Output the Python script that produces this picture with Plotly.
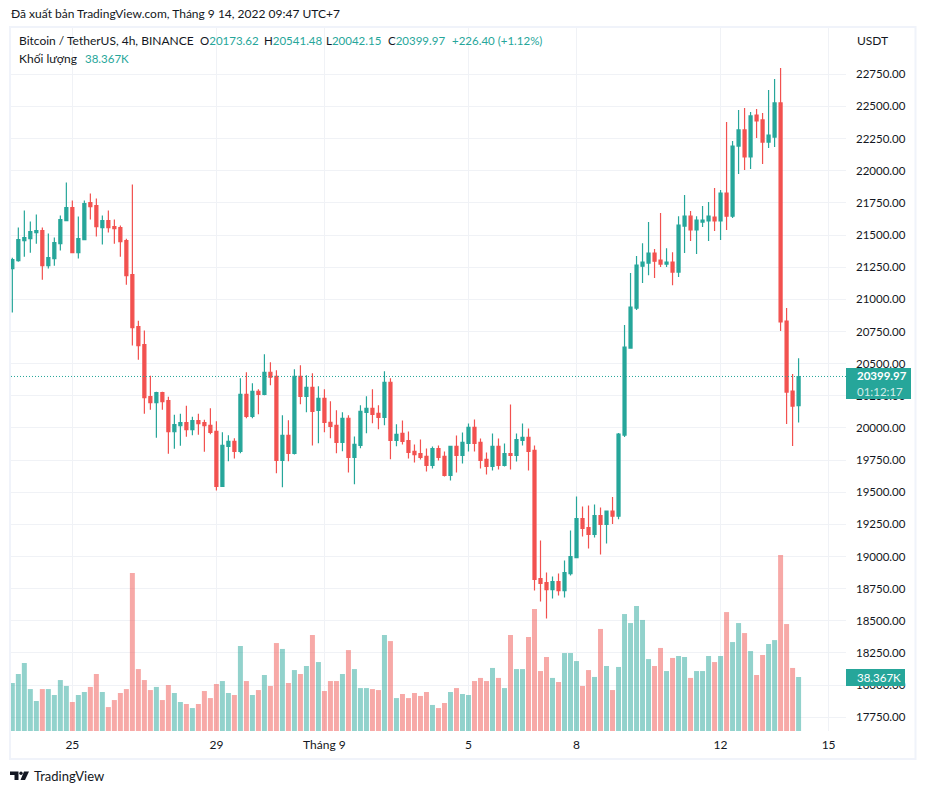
import plotly.graph_objects as go

W, H = 926, 794
opens = [21239,21301,21457,21472,21519,21535,21262,21317,21433,21612,21714,21363,21465,21753,21729,21558,21612,21566,21558,21457,
21192,20788,20648,20243,20196,20274,20212,19970,20017,20041,19986,20056,20041,20020,19973,19545,19857,19896,19818,20261,
20090,20285,20261,20433,20401,19748,19942,19802,20401,20246,20316,20137,20230,20043,20020,19888,20075,19771,19864,20121,
20152,20113,20082,20355,19903,19957,19902,19817,19801,19778,19708,19840,19778,19630,19856,19786,19879,20004,19887,19755,
19700,19856,19708,19801,19786,19902,19926,19825,18829,18797,18743,18805,18735,18867,18992,19295,19225,19171,19319,19249,
19353,19314,19944,20621,20932,21258,21282,21360,21305,21274,21290,21212,21570,21647,21539,21601,21609,21640,21609,21826,
21647,22192,22317,22107,22433,22395,22223,22262,22527,20831,20287,20173.62]
highs = [21324,21558,21690,21605,21659,21558,21511,21480,21651,21908,21768,21644,21768,21823,21784,21651,21690,21620,21574,21472,
21893,20834,20757,20406,20282,20282,20243,20103,20111,20173,20087,20111,20064,20152,20051,19966,19942,19919,20386,20433,
20347,20300,20573,20510,20448,20098,20059,20456,20487,20409,20425,20324,20300,20207,20137,20121,20098,19934,20176,20246,
20300,20176,20440,20386,20028,20058,19972,19871,19910,19840,19856,19864,19817,19856,19941,19965,20035,20066,19918,19809,
19957,19918,19879,20183,19957,20035,19996,19864,19124,18875,18844,18867,18969,19202,19467,19389,19397,19404,19381,19358,
19462,19960,20800,21204,21336,21437,21601,21391,21671,21398,21367,21647,21811,21686,21647,21725,21756,21865,21850,22379,
22231,22472,22488,22457,22480,22449,22628,22714,22799,20932,20419,20541.48]
lows = [20897,21293,21332,21363,21433,21153,21239,21262,21379,21612,21363,21317,21465,21620,21488,21426,21519,21433,21332,21114,
20640,20531,20111,20142,19924,20142,19799,19838,19862,19932,19942,19947,19815,19950,19514,19545,19740,19763,19802,20075,
20075,20106,20254,20331,19647,19538,19740,19794,20184,20121,19864,19880,19966,19919,19802,19818,19654,19561,19841,19958,
20036,19989,20020,19756,19857,19871,19762,19731,19755,19661,19685,19747,19622,19591,19653,19723,19817,19817,19685,19638,
19669,19677,19700,19677,19739,19864,19669,18735,18650,18517,18673,18696,18681,18852,18992,19155,19062,19148,19015,19101,
19252,19290,19929,20621,20917,21126,21188,21165,21251,21251,21110,21173,21360,21453,21352,21562,21453,21531,21461,21539,
21632,21974,22005,22013,22255,22052,22177,22185,20754,20030,19859,20042.15]
closes = [21309,21465,21480,21527,21535,21262,21325,21441,21620,21714,21363,21472,21745,21721,21566,21612,21558,21550,21449,21184,
20780,20640,20235,20196,20274,20204,19970,20025,20041,19986,20056,20033,20017,19966,19545,19864,19896,19818,20261,20090,
20285,20261,20433,20394,19748,19942,19802,20401,20246,20316,20129,20230,20043,20012,19888,20075,19771,19872,20129,20152,
20106,20082,20355,19903,19950,19895,19809,19793,19770,19708,19840,19770,19630,19856,19786,19887,20004,19879,19747,19700,
19856,19708,19801,19786,19910,19926,19817,18821,18790,18743,18805,18735,18875,19000,19295,19218,19171,19319,19249,19353,
19314,19952,20629,20940,21266,21290,21360,21297,21274,21290,21212,21577,21647,21539,21616,21616,21647,21609,21826,21647,
22192,22317,22107,22426,22387,22223,22278,22527,20824,20279,20170,20399.97]
volumes_k = [34.1,40.5,48.3,29.8,21.3,29.8,29.8,25.6,36.2,32.0,20.6,25.6,27.7,31.3,40.5,27.7,17.0,22.0,27.0,29.8,
112.2,44.0,36.2,29.1,31.3,22.0,32.7,27.0,20.6,19.2,16.3,19.2,28.4,23.4,33.4,35.5,27.0,25.6,60.4,35.5,
25.6,29.1,39.8,32.0,62.5,58.3,34.1,43.3,40.5,46.2,68.2,49.0,28.4,35.5,35.5,40.5,57.5,44.0,30.5,30.5,
29.8,29.1,68.2,63.9,23.4,26.3,23.4,27.0,24.9,27.7,18.5,16.3,19.9,27.7,30.5,26.3,25.6,35.5,37.7,35.5,
44.8,37.7,30.5,68.2,44.0,44.0,66.8,86.7,42.6,52.6,37.7,34.8,55.4,55.4,49.7,32.0,43.3,38.4,72.5,46.2,
29.1,45.5,83.1,76.7,88.8,78.9,51.1,46.2,59.0,42.6,51.9,53.3,52.6,37.7,42.6,42.6,53.3,49.0,53.3,84.5,
63.2,76.7,69.6,56.8,39.8,54.0,61.8,64.6,125.0,76.0,44.8,38.367]
bar_index = list(range(len(closes)))
time_tick_index = [10, 34, 52, 76, 94, 118, 136]
time_tick_labels = ["25", "29", "Tháng 9", "5", "8", "12", "15"]
price_ticks = [17750 + 250 * k for k in range(21)]

TEAL, RED = "#26a69a", "#f2514f"
TEAL_V, RED_V = "rgba(38,166,154,0.5)", "rgba(239,83,80,0.5)"
GRID, FRAME, INK = "#f0f2f6", "#f0f3fa", "#131722"
FONT = "Lato, 'Open Sans', sans-serif"
NUM = 11.5

def px(x): return x / W
def py(y): return 1 - y / H

fig = go.Figure()
fig.add_trace(go.Bar(
    x=bar_index, y=volumes_k, yaxis="y2",
    marker=dict(color=[TEAL_V if c >= o else RED_V for o, c in zip(opens, closes)], line_width=0),
    hoverinfo="skip", showlegend=False))
fig.add_trace(go.Candlestick(
    x=bar_index, open=opens, high=highs, low=lows, close=closes,
    increasing=dict(line=dict(color=TEAL, width=1.2), fillcolor=TEAL),
    decreasing=dict(line=dict(color=RED, width=1.2), fillcolor=RED),
    whiskerwidth=0, hoverinfo="skip", showlegend=False))

def note(x, y, text, color=INK, size=12, anchor="left", weight=None):
    fig.add_annotation(xref="paper", yref="paper", x=px(x), y=py(y), text=text, showarrow=False,
                       xanchor=anchor, yanchor="middle", align="left",
                       font=dict(family=FONT, size=size, color=color, weight=weight), borderpad=0)

def poly(points):
    return "M" + " L".join(f"{px(a):.5f},{py(b):.5f}" for a, b in points) + " Z"

logo = dict(type="path", xref="paper", yref="paper", fillcolor="#131722", line_width=0, layer="above")
shapes = [
    dict(type="line", xref="paper", yref="y", x0=px(11), x1=px(846), y0=closes[-1], y1=closes[-1],
         line=dict(color=TEAL, width=1, dash="1px,2px"), layer="above"),
    dict(type="rect", xref="paper", yref="paper", x0=px(10), x1=px(915.5), y0=py(27), y1=py(759),
         line=dict(color=FRAME, width=2), fillcolor="rgba(0,0,0,0)", layer="above"),
    dict(type="rect", xref="paper", yref="paper", x0=px(846), x1=px(911), y0=py(368), y1=py(399),
         line_width=0, fillcolor=TEAL, layer="above"),
    dict(type="rect", xref="paper", yref="paper", x0=px(846), x1=px(905), y0=py(669), y1=py(686),
         line_width=0, fillcolor=TEAL, layer="above"),
    dict(logo, path=poly([(10, 771.5), (18.5, 771.5), (18.5, 780), (14.5, 780), (14.5, 775), (10, 775)])),
    dict(type="circle", xref="paper", yref="paper", x0=px(19.3), x1=px(22.7), y0=py(771.5), y1=py(775),
         fillcolor="#131722", line_width=0, layer="above"),
    dict(logo, path=poly([(24, 771.5), (29, 771.5), (25, 780), (20.5, 780)])),
]

note(10, 14, "Đã xuất bản TradingView.com, Tháng 9 14, 2022 09:47 UTC+7")
note(18, 41, "Bitcoin / TetherUS, 4h, BINANCE")
note(199, 41, f"O<span style='color:{TEAL}'>20173.62</span>", size=NUM)
note(263, 41, f"H<span style='color:{TEAL}'>20541.48</span>", size=NUM)
note(325, 41, f"L<span style='color:{TEAL}'>20042.15</span>", size=NUM)
note(387, 41, f"C<span style='color:{TEAL}'>20399.97</span>", size=NUM)
note(451, 41, "+226.40 (+1.12%)", TEAL, size=NUM)
note(18, 59, "Khối lượng")
note(84, 59, "38.367K", TEAL, size=NUM)
note(856, 41, "USDT")
note(856, 376, "20399.97", "#ffffff", size=NUM, weight=700)
note(856, 391, "01:12:17", "rgba(255,255,255,0.8)", size=NUM)
note(856, 677, "38.367K", "#ffffff", size=NUM)
note(33, 776, "TradingView", size=13)

fig.update_layout(
    width=W, height=H, margin=dict(l=0, r=0, t=0, b=0),
    paper_bgcolor="#ffffff", plot_bgcolor="#ffffff",
    font=dict(family=FONT, size=12, color=INK),
    bargap=0.17, boxgap=0.28, showlegend=False, shapes=shapes, hovermode=False,
    xaxis=dict(domain=[px(11), px(846)], range=[-0.222, 138.9], rangeslider_visible=False,
               tickmode="array", tickvals=time_tick_index, ticktext=time_tick_labels,
               showgrid=True, gridcolor=GRID, gridwidth=1, zeroline=False, showline=False,
               ticks="", ticklabelstandoff=5, tickfont=dict(size=12, color=INK)),
    yaxis=dict(domain=[py(731), py(28)], range=[17643, 23110], side="right",
               tickmode="array", tickvals=price_ticks, ticktext=[f"{v:.2f}" for v in price_ticks],
               showgrid=True, gridcolor=GRID, gridwidth=1, zeroline=False, showline=False,
               ticks="", ticklabelstandoff=9, tickfont=dict(size=NUM, color=INK)),
    yaxis2=dict(domain=[py(731), py(28)], range=[0, 499.5], overlaying="y", visible=False),
)

fig.write_html("out.html", config={"displayModeBar": False},
               post_script="document.body.style.margin='0';document.body.style.overflow='hidden';")
